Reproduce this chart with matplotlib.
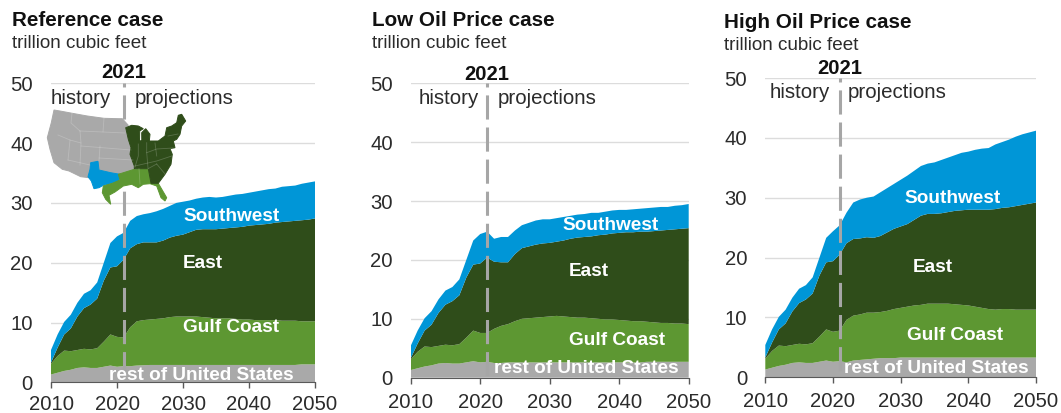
import numpy as np
import matplotlib
matplotlib.use("Agg")
import matplotlib.pyplot as plt
from matplotlib.patches import Polygon

plt.rcParams['font.family'] = ['Liberation Sans', 'DejaVu Sans']

W, H = 1061, 413

years = list(range(2010, 2051))

# 2010-2020 is the same in every case
hist_rest = [1.3, 1.6, 1.9, 2.1, 2.4, 2.5, 2.4, 2.4, 2.6, 2.8, 2.6]
hist_gulf = [1.8, 2.8, 3.4, 3.1, 3.0, 3.1, 3.1, 3.3, 4.2, 5.2, 5.0]
hist_east = [0.2, 1.4, 2.7, 3.8, 5.6, 6.8, 7.5, 8.3, 10.2, 11.2, 11.8]
hist_sw = [2.1, 2.2, 2.1, 2.3, 2.3, 2.4, 2.4, 2.7, 3.0, 4.1, 5.0]

# 2021-2050 projections
ref_rest = [2.7, 2.7, 2.8, 2.85, 2.9, 2.9, 2.9, 2.9, 2.9, 2.9, 2.9, 2.9, 2.9, 2.9, 2.9,
            2.9, 2.9, 2.9, 2.9, 2.9, 2.9, 2.9, 2.9, 2.9, 2.9, 2.9, 2.9, 3.0, 3.0, 3.0]
ref_gulf = [4.8, 6.5, 7.4, 7.55, 7.6, 7.7, 7.8, 8.0, 8.1, 8.1, 8.1, 8.1, 8.0, 7.9, 7.8,
            7.8, 7.8, 7.7, 7.6, 7.6, 7.5, 7.5, 7.5, 7.5, 7.4, 7.4, 7.4, 7.2, 7.2, 7.2]
ref_east = [13.0, 13.2, 12.9, 13.0, 12.9, 12.8, 13.0, 13.3, 13.5, 13.7, 14.1, 14.5, 14.7, 14.8, 14.9,
            15.0, 15.1, 15.3, 15.5, 15.7, 15.9, 16.0, 16.1, 16.3, 16.5, 16.6, 16.7, 16.9, 17.0, 17.2]
ref_sw = [4.5, 4.6, 4.7, 4.7, 4.9, 5.2, 5.3, 5.3, 5.5, 5.5, 5.3, 5.2, 5.3, 5.4, 5.3,
          5.3, 5.4, 5.5, 5.5, 5.5, 5.6, 5.7, 5.8, 5.7, 5.9, 5.9, 5.9, 6.1, 6.2, 6.2]

low_rest = [2.7, 2.5, 2.5, 2.6, 2.6, 2.6, 2.6, 2.6, 2.6, 2.6, 2.6, 2.6, 2.6, 2.6, 2.6,
            2.6, 2.6, 2.6, 2.6, 2.6, 2.6, 2.6, 2.6, 2.7, 2.7, 2.7, 2.7, 2.7, 2.7, 2.7]
low_gulf = [4.9, 5.8, 6.3, 6.5, 7.0, 7.4, 7.5, 7.6, 7.7, 7.8, 7.9, 7.8, 7.7, 7.6, 7.6,
            7.5, 7.4, 7.3, 7.3, 7.2, 7.1, 7.0, 7.0, 6.8, 6.7, 6.6, 6.6, 6.5, 6.5, 6.4]
low_east = [12.8, 11.4, 10.8, 10.5, 11.4, 12.0, 12.2, 12.4, 12.5, 12.5, 12.6, 12.9, 13.3, 13.6, 13.7,
            13.9, 14.2, 14.4, 14.6, 14.8, 15.0, 15.1, 15.2, 15.3, 15.5, 15.7, 15.8, 16.0, 16.1, 16.3]
low_sw = [4.4, 3.9, 4.3, 4.3, 4.0, 3.9, 4.0, 4.1, 4.1, 4.0, 4.0, 4.0, 3.9, 3.9, 3.9,
          4.0, 3.8, 3.9, 3.9, 3.9, 3.8, 3.9, 3.9, 4.0, 4.0, 4.0, 3.9, 4.0, 4.0, 4.1]

high_rest = [2.7, 2.5, 2.8, 2.9, 3.0, 3.1, 3.2, 3.2, 3.2, 3.3, 3.3, 3.3, 3.3, 3.3, 3.3,
             3.3, 3.3, 3.3, 3.3, 3.3, 3.3, 3.3, 3.3, 3.3, 3.3, 3.3, 3.3, 3.3, 3.3, 3.3]
high_gulf = [5.1, 7.1, 7.5, 7.6, 7.8, 7.7, 7.7, 7.9, 8.2, 8.3, 8.5, 8.7, 8.8, 9.0, 9.0,
             9.0, 9.0, 8.9, 8.8, 8.7, 8.5, 8.3, 8.1, 8.0, 8.1, 8.1, 8.0, 8.0, 8.0, 8.0]
high_east = [12.7, 12.8, 12.8, 12.7, 12.6, 12.5, 12.7, 13.1, 13.4, 13.6, 13.8, 14.3, 14.9, 15.0, 15.0,
             15.1, 15.3, 15.6, 15.8, 16.0, 16.2, 16.4, 16.6, 16.8, 16.9, 17.0, 17.3, 17.5, 17.7, 17.9]
high_sw = [4.9, 5.1, 6.1, 6.5, 6.6, 6.9, 7.3, 7.4, 7.5, 7.8, 8.1, 8.2, 8.3, 8.4, 8.6,
           8.9, 9.1, 9.3, 9.6, 9.7, 10.0, 10.2, 10.3, 10.8, 11.0, 11.3, 11.6, 11.8, 11.9, 12.0]

titles = ['Reference case', 'Low Oil Price case', 'High Oil Price case']
region_labels = ['rest of United States', 'Gulf Coast', 'East', 'Southwest']
region_colors = ['#a9a9a9', '#5d9732', '#2f4d1a', '#0096d7']
yticks = [0, 10, 20, 30, 40, 50]
xticks = [2010, 2020, 2030, 2040, 2050]
text_color = '#2b2b2b'

# pixel boxes of the three plots: left, right, y of 0, y of 50
boxes = [(51, 315, 382.3, 83.3), (410.7, 688.7, 377.7, 83.3), (765.3, 1036, 377.3, 78)]
# year labels sit very near the bottom edge on the first panel
xlabel_pad = [5.2, 6.5, 6.5]
# pixel x of title, y of title, y of unit line
title_pos = [(12, 21, 44), (372, 21, 44), (724, 23, 46)]
# x of history, x of projections, y of those two, y of 2021 label
note_pos = [(51, 135, 99, 73), (419, 498, 99, 74), (770, 848, 93, 68)]
# label spots in data units, same order as region_labels
label_pos = [
    [(2018.8, 1.2), (2030, 9.1), (2030, 19.9), (2030, 27.7)],
    [(2022, 1.5), (2032.8, 6.4), (2032.8, 18.0), (2031.9, 25.8)],
    [(2021.7, 1.4), (2031, 6.9), (2031.8, 18.3), (2030.6, 29.8)],
]
cases = [
    (ref_rest, ref_gulf, ref_east, ref_sw),
    (low_rest, low_gulf, low_east, low_sw),
    (high_rest, high_gulf, high_east, high_sw),
]
hist = (hist_rest, hist_gulf, hist_east, hist_sw)

fig = plt.figure(figsize=(W / 100, H / 100), dpi=100)


def px(x, y):
    # figure fraction from image pixels
    return x / W, 1 - y / H


for i, case in enumerate(cases):
    left, right, y0, y50 = boxes[i]
    ax = fig.add_axes([left / W, 1 - y0 / H, (right - left) / W, (y0 - y50) / H])
    series = [h + c for h, c in zip(hist, case)]
    ax.stackplot(years, series, colors=region_colors, linewidth=0, zorder=2)

    ax.set_xlim(2010, 2050)
    ax.set_ylim(0, 50)
    ax.set_xticks(xticks)
    ax.set_yticks(yticks)
    ax.grid(axis='y', color='#dcdcdc', linewidth=1, zorder=1)
    ax.set_axisbelow(True)
    for s in ['top', 'left', 'right']:
        ax.spines[s].set_visible(False)
    ax.spines['bottom'].set_color('#595959')
    ax.spines['bottom'].set_zorder(5)
    ax.tick_params(axis='x', length=4.3, width=1, color='#595959', pad=xlabel_pad[i], labelsize=14.6, labelcolor=text_color)
    ax.tick_params(axis='y', length=0, pad=13, labelsize=14.6, labelcolor=text_color)

    # line runs top down so the short stub sits at the 50 gridline
    ax.plot([2021, 2021], [50, 0], color='#a6a6a6', linewidth=2.2, linestyle=(6.6, (7.9, 2.6)), zorder=4)

    for label, (lx, ly) in zip(region_labels, label_pos[i]):
        ax.text(lx, ly, label, color='white', fontsize=13.7, fontweight='bold', ha='left', va='center', zorder=6)

    tx, ty, uy = title_pos[i]
    fig.text(*px(tx, ty), titles[i], fontsize=14.9, fontweight='bold', color='#111111', va='center')
    fig.text(*px(tx, uy), 'trillion cubic feet', fontsize=13.6, color=text_color, va='center')

    hx, px_x, ny, yr_y = note_pos[i]
    fig.text(*px(hx, ny), 'history', fontsize=14.8, color=text_color, va='center')
    fig.text(*px(px_x, ny), 'projections', fontsize=14.8, color=text_color, va='center')
    xc = left + (right - left) * 11 / 40
    fig.text(*px(xc, yr_y), '2021', fontsize=14.6, fontweight='bold', color='#111111', va='center', ha='center')

# locator map on the first panel, traced roughly in image pixels
overlay = fig.add_axes([0, 0, 1, 1], zorder=10)
overlay.set_xlim(0, W)
overlay.set_ylim(H, 0)
overlay.axis('off')
overlay.patch.set_alpha(0)

map_west = [(54, 110), (60, 111), (72.3, 113.3), (87.3, 116), (104, 118.3), (119, 118.7), (122.3, 118.7), (128.3, 125.3),
            (125.7, 127.7), (128.3, 139.3), (131, 147.7), (130, 154.3), (134.3, 166), (134.3, 168.7), (131.7, 175.3),
            (118.3, 174.3), (89, 177.7), (80.7, 176.7), (69, 171), (62.3, 169.3), (54, 162.7), (50, 149.3),
            (47.3, 137.7), (51.3, 122.7)]
map_sw = [(90.7, 162.7), (98, 161.3), (99, 170), (110.7, 172.7), (120, 174.3), (119, 181), (112.3, 183.3),
          (103.3, 185.3), (99, 187.7), (94, 188.7), (91.3, 181), (88, 176.7), (90, 169.3)]
map_gulf = [(103.3, 186), (112.3, 183.3), (120, 180), (118.3, 174.3), (134.3, 169.3), (148.3, 168.7), (151, 183.3),
            (158.3, 183.3), (166.7, 197.7), (165, 201), (161, 197.7), (156.7, 186), (150, 183.7), (143.3, 184.3),
            (138.3, 187.7), (131.7, 184.3), (123.3, 186), (115, 192), (109, 195.3), (110.7, 204.3), (105.7, 199.3),
            (102.3, 192.7)]
map_east = [(125.7, 127.7), (131.7, 125.3), (138.3, 126), (143.3, 128.7), (139.7, 131), (139.5, 141), (141.8, 140.5),
            (141.7, 132.7), (145.7, 128.7), (150, 134.3), (149.3, 141), (158.3, 141), (165, 136), (166.7, 127.7),
            (171.7, 126), (176.7, 122.7), (178.3, 115.3), (181.7, 114.3), (185.7, 121), (181.7, 126), (180, 134.3),
            (176.7, 139.3), (173.3, 141), (175, 147.7), (170, 148.7), (172.3, 154.3), (171, 164.3), (165, 174.3),
            (158.3, 183.3), (151, 183.3), (148.3, 168.7), (134.3, 168.7), (134.3, 166), (130, 154.3), (131, 147.7),
            (128.3, 139.3)]
map_lines = [[(72, 113), (71, 123), (80, 131)], [(104, 118), (103, 132), (125, 133)], [(80, 131), (103, 132)],
             [(58, 135), (70, 140), (68, 160)], [(70, 140), (81, 143), (80, 131)], [(81, 143), (80, 165)],
             [(81, 146), (131, 150)], [(68, 160), (90, 165)], [(100, 146), (99, 161)], [(99, 158), (133, 160)],
             [(146.7, 142.7), (146.7, 152.7), (148, 168)], [(138.3, 144), (138.3, 156), (135, 167)],
             [(135, 166), (156.7, 161), (171.7, 156)], [(155, 143), (156.7, 156)],
             [(146.7, 152.7), (156.7, 149), (173, 148)], [(156.7, 164), (165, 174)], [(148, 168.7), (156.7, 164)],
             [(168, 136), (178, 134)], [(139, 168.7), (140, 184)]]

for pts, col in [(map_west, region_colors[0]), (map_sw, region_colors[3]),
                 (map_gulf, region_colors[1]), (map_east, region_colors[2])]:
    overlay.add_patch(Polygon(pts, closed=True, facecolor=col, edgecolor=col, linewidth=0.7))
for ln in map_lines:
    xy = np.array(ln)
    overlay.plot(xy[:, 0], xy[:, 1], color='white', alpha=0.2, linewidth=0.6)

fig.savefig('out.png', dpi=100)
